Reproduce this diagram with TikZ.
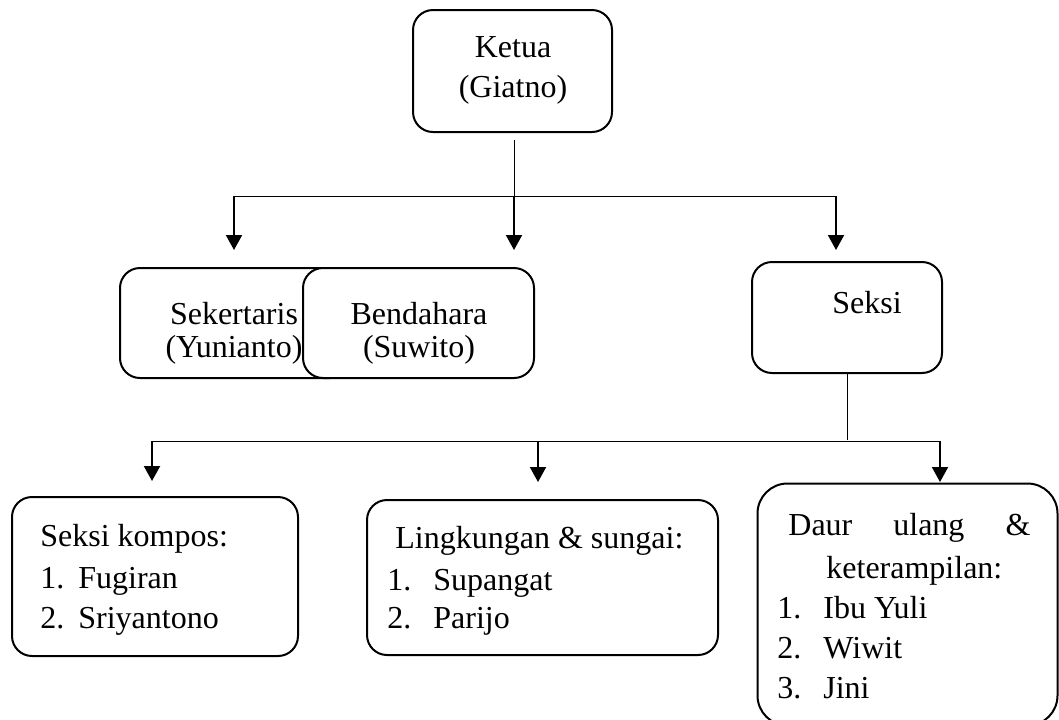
\documentclass[tikz,border=0pt]{standalone}
\usepackage{fontspec}
\setmainfont{Liberation Serif}
\usetikzlibrary{arrows.meta}
\newcommand{\itm}[2]{\makebox[23pt][l]{#1}#2}
\newcommand{\itmb}[2]{\makebox[19pt][l]{#1}#2}
\tikzset{
  box/.style={draw, line width=1pt, rounded corners=10pt, fill=white, inner sep=0pt},
  txt/.style={inner sep=0pt, font=\fontsize{16pt}{20pt}\selectfont},
  link/.style={line width=0.5pt},
  arr/.style={line width=1pt, -{Triangle[length=7.5pt,width=8pt]}}
}
\begin{document}
\begin{tikzpicture}[x=0.5pt,y=-0.5pt]
\useasboundingbox (0,0) rectangle (1059,719);
% boxes
\node[box, minimum width=99.5pt, minimum height=61pt] (ketua) at (512.5,71) {};
\node[box, minimum width=115pt, minimum height=55pt] (sek) at (235,323) {};
\node[box, minimum width=115.5pt, minimum height=55pt] (ben) at (418.5,323) {};
\node[box, minimum width=95pt, minimum height=55.5pt] (seksi) at (847,317.5) {};
\node[box, minimum width=143pt, minimum height=79.5pt] (kompos) at (155,576.5) {};
\node[box, minimum width=175.5pt, minimum height=77.5pt] (ling) at (542.5,577.5) {};
\begin{scope}
\clip (0,0) rectangle (1059,719);
\node[box, rounded corners=15pt, minimum width=150pt, minimum height=121pt] (daur) at (907.5,604.5) {};
\end{scope}
% texts
\node[txt, anchor=base] (t1) at (513,57) {Ketua};
\node[txt, anchor=base] (t2) at (513,97) {(Giatno)};
\node[txt, anchor=base] (t3) at (234,324) {Sekertaris};
\node[txt, anchor=base] (t4) at (234,357) {(Yunianto)};
\node[txt, anchor=base] (t5) at (419,324) {Bendahara};
\node[txt, anchor=base] (t6) at (419,357) {(Suwito)};
\node[txt, anchor=base] (t7) at (867,313) {Seksi};
\node[txt, anchor=base west] (k1) at (40,546) {Seksi kompos:};
\node[txt, anchor=base west] (k2) at (40,588) {\itmb{1.}{Fugiran}};
\node[txt, anchor=base west] (k3) at (40,628) {\itmb{2.}{Sriyantono}};
\node[txt, anchor=base west] (l1) at (395,548) {Lingkungan \& sungai:};
\node[txt, anchor=base west] (l2) at (387,590) {\itm{1.}{Supangat}};
\node[txt, anchor=base west] (l3) at (387,628) {\itm{2.}{Parijo}};
\node[txt, anchor=base west] (d1) at (788,535) {\makebox[121pt][s]{Daur\hfill ulang\hfill\&}};
\node[txt, anchor=base west] (d2) at (826,578) {keterampilan:};
\node[txt, anchor=base west] (d3) at (777,618) {\itm{1.}{Ibu Yuli}};
\node[txt, anchor=base west] (d4) at (777,658) {\itm{2.}{Wiwit}};
\node[txt, anchor=base west] (d5) at (777,698) {\itm{3.}{Jini}};
% connectors top
\coordinate (k0) at (514,140);
\coordinate (kh) at (514,196);
\coordinate (hl) at (234,196);
\coordinate (hr) at (836,196);
\draw[link] (k0) -- (kh);
\draw[link] (hl) -- (hr);
\draw[arr] (hl) -- (234,250);
\draw[arr] (kh) -- (514,250);
\draw[arr] (hr) -- (836,250);
% connectors bottom
\coordinate (s0) at (847,374);
\coordinate (sh) at (847,440);
\coordinate (bl) at (152,441);
\coordinate (bm) at (538,441);
\coordinate (br) at (940,441);
\draw[link] (s0) -- (sh);
\draw[link] (bl) -- (br);
\draw[arr] (bl) -- (152,481);
\draw[arr] (bm) -- (538,482);
\draw[arr] (br) -- (940,482);
\end{tikzpicture}
\end{document}
